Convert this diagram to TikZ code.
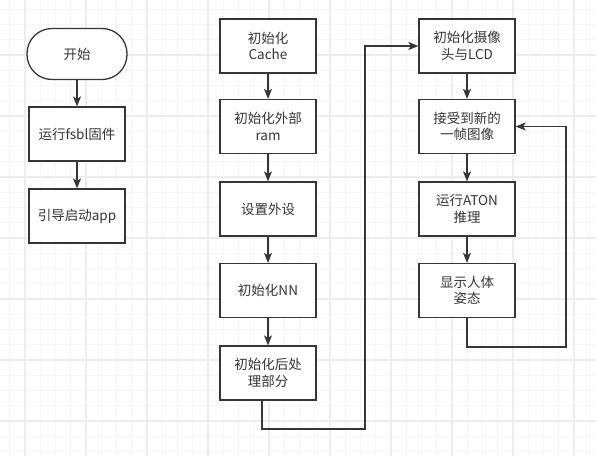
\documentclass[tikz,border=0pt]{standalone}
\usepackage{fontspec}
\setmainfont{Noto Sans CJK SC}
\usetikzlibrary{arrows.meta}
\definecolor{ink}{HTML}{363636}
\definecolor{gridminor}{HTML}{F6F6F6}
\definecolor{gridmajor}{HTML}{EDEDED}
\tikzset{
  stepbox/.style={draw=ink, line width=1.3pt, fill=white, text=ink,
    minimum width=96pt, minimum height=54pt, inner sep=2pt, align=center,
    font=\fontsize{13.5pt}{16.5pt}\selectfont},
  termbox/.style={stepbox, minimum width=100pt, minimum height=51pt, rounded corners=25pt},
  conn/.style={draw=ink, line width=1.3pt, -{Stealth[length=10pt,width=8pt,inset=2.5pt]}},
  gminor/.style={draw=gridminor, line width=1pt},
  gmajor/.style={draw=gridmajor, line width=1.1pt}
}
\begin{document}
\begin{tikzpicture}[x=1pt,y=-1pt]
\useasboundingbox (0,0) rectangle (596,456);
\fill[white] (0,0) rectangle (596,456);
% grid
\foreach \k in {0,...,40} {
  \draw[gminor] ({-5.5+15.25*\k},0) -- ++(0,456);
  \draw[gminor] (0,{-6+15.25*\k}) -- ++(596,0);
}
\foreach \k in {0,...,10} {
  \draw[gmajor] ({-36+61*\k},0) -- ++(0,456);
  \draw[gmajor] (0,{-6+61*\k}) -- ++(596,0);
}
% left column
\node[termbox] (start) at (77,54) {开始};
\node[stepbox] (fsbl) at (77,134) {运行fsbl固件};
\node[stepbox] (boot) at (77,216) {引导启动app};
% middle column
\node[stepbox] (m1) at (268,46) {初始化\\Cache};
\node[stepbox] (m2) at (268,126.5) {初始化外部\\ram};
\node[stepbox] (m3) at (268,209) {设置外设};
\node[stepbox] (m4) at (268,290.5) {初始化NN};
\node[stepbox] (m5) at (268,373) {初始化后处\\理部分};
% right column
\node[stepbox] (r1) at (467,46) {初始化摄像\\头与LCD};
\node[stepbox] (r2) at (467,126.5) {接受到新的\\一帧图像};
\node[stepbox] (r3) at (467,209) {运行ATON\\推理};
\node[stepbox] (r4) at (467,290.5) {显示人体\\姿态};
% bend points
\coordinate (c1) at (365,429);
\coordinate (c2) at (566,347);
% connectors
\draw[conn] (start) -- (fsbl);
\draw[conn] (fsbl) -- (boot);
\draw[conn] (m1) -- (m2);
\draw[conn] (m2) -- (m3);
\draw[conn] (m3) -- (m4);
\draw[conn] (m4) -- (m5);
\draw[conn] ([xshift=-6pt]m5.south) |- (c1) |- (r1.west);
\draw[conn] (r1) -- (r2);
\draw[conn] (r2) -- (r3);
\draw[conn] (r3) -- (r4);
\draw[conn] (r4.south) |- (c2) |- (r2.east);
\end{tikzpicture}
\end{document}
